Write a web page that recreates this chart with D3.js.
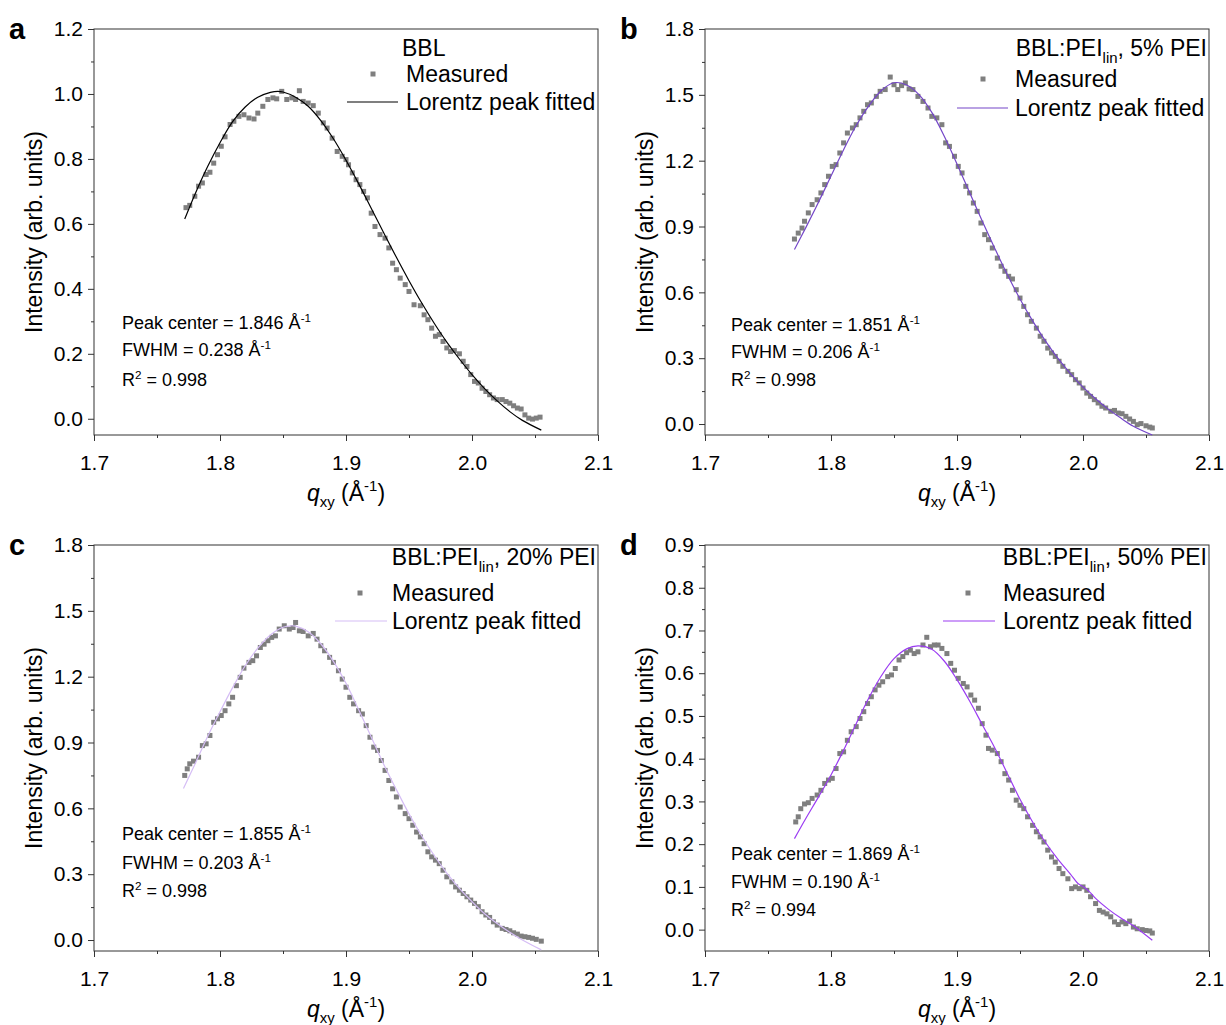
<!DOCTYPE html>
<html>
<head>
<meta charset="utf-8">
<script src="https://cdn.jsdelivr.net/npm/d3@7"></script>
<style>
  body { margin: 0; background: #fff; }
  text { font-family: "Liberation Sans", Arial, sans-serif; fill: #000; }
</style>
</head>
<body>
<svg id="chart" width="1226" height="1025"></svg>
<script>
/*global d3*/

// measured points [q, intensity]
var measuredA = [[1.773,0.650],[1.776,0.657],[1.780,0.685],[1.783,0.716],[1.786,0.726],[1.789,0.752],[1.792,0.759],[1.795,0.787],[1.798,0.813],[1.801,0.839],[1.804,0.868],[1.808,0.906],[1.811,0.916],[1.815,0.931],[1.819,0.936],[1.823,0.926],[1.827,0.923],[1.830,0.941],[1.834,0.962],[1.838,0.983],[1.842,0.988],[1.845,0.985],[1.849,1.008],[1.853,0.983],[1.857,0.988],[1.860,0.983],[1.863,1.010],[1.866,0.977],[1.870,0.972],[1.874,0.964],[1.878,0.941],[1.882,0.911],[1.885,0.895],[1.889,0.864],[1.893,0.823],[1.897,0.808],[1.900,0.798],[1.902,0.782],[1.905,0.757],[1.908,0.736],[1.911,0.721],[1.914,0.700],[1.917,0.680],[1.920,0.633],[1.923,0.592],[1.927,0.567],[1.931,0.556],[1.934,0.526],[1.937,0.479],[1.940,0.459],[1.943,0.433],[1.947,0.413],[1.950,0.392],[1.954,0.351],[1.959,0.348],[1.962,0.320],[1.965,0.305],[1.968,0.279],[1.971,0.254],[1.974,0.259],[1.977,0.238],[1.980,0.218],[1.983,0.207],[1.986,0.210],[1.990,0.200],[1.993,0.177],[1.996,0.161],[1.999,0.136],[2.002,0.115],[2.005,0.110],[2.008,0.094],[2.011,0.084],[2.014,0.074],[2.017,0.064],[2.020,0.059],[2.024,0.059],[2.027,0.053],[2.030,0.048],[2.033,0.040],[2.036,0.033],[2.039,0.030],[2.042,0.012],[2.045,0.002],[2.048,-0.001],[2.051,0.002],[2.054,0.005]];

var measuredB = [[1.771,0.843],[1.774,0.870],[1.777,0.893],[1.779,0.924],[1.782,0.962],[1.785,1.000],[1.789,1.022],[1.792,1.053],[1.795,1.091],[1.798,1.129],[1.801,1.174],[1.804,1.182],[1.807,1.235],[1.810,1.281],[1.813,1.326],[1.817,1.349],[1.820,1.364],[1.823,1.395],[1.826,1.425],[1.829,1.455],[1.832,1.463],[1.836,1.493],[1.839,1.516],[1.843,1.524],[1.847,1.581],[1.850,1.546],[1.853,1.524],[1.856,1.542],[1.859,1.554],[1.862,1.527],[1.865,1.524],[1.869,1.493],[1.873,1.470],[1.877,1.440],[1.880,1.402],[1.884,1.395],[1.888,1.364],[1.891,1.281],[1.894,1.265],[1.898,1.220],[1.901,1.174],[1.904,1.144],[1.907,1.083],[1.910,1.053],[1.913,1.007],[1.916,0.969],[1.919,0.916],[1.922,0.863],[1.925,0.840],[1.928,0.802],[1.932,0.756],[1.935,0.719],[1.938,0.696],[1.941,0.673],[1.944,0.661],[1.947,0.612],[1.950,0.574],[1.953,0.536],[1.956,0.498],[1.959,0.468],[1.963,0.437],[1.966,0.400],[1.969,0.377],[1.972,0.346],[1.975,0.324],[1.978,0.308],[1.981,0.286],[1.984,0.263],[1.988,0.240],[1.991,0.225],[1.994,0.202],[1.997,0.187],[2.000,0.164],[2.003,0.141],[2.006,0.126],[2.009,0.111],[2.012,0.096],[2.015,0.081],[2.018,0.073],[2.022,0.058],[2.025,0.062],[2.028,0.050],[2.031,0.047],[2.034,0.035],[2.037,0.023],[2.040,0.012],[2.043,-0.003],[2.046,0.002],[2.050,-0.008],[2.053,-0.014],[2.055,-0.018]];

var measuredC = [[1.772,0.750],[1.774,0.780],[1.776,0.803],[1.779,0.815],[1.783,0.833],[1.786,0.886],[1.789,0.894],[1.792,0.932],[1.795,0.992],[1.798,1.008],[1.801,1.023],[1.804,1.045],[1.807,1.076],[1.810,1.106],[1.813,1.159],[1.816,1.197],[1.819,1.239],[1.823,1.265],[1.826,1.273],[1.829,1.295],[1.832,1.333],[1.835,1.348],[1.838,1.364],[1.841,1.379],[1.844,1.386],[1.847,1.417],[1.851,1.432],[1.855,1.417],[1.858,1.424],[1.860,1.447],[1.863,1.409],[1.866,1.406],[1.870,1.386],[1.874,1.397],[1.877,1.371],[1.880,1.341],[1.883,1.318],[1.887,1.288],[1.890,1.265],[1.894,1.227],[1.897,1.189],[1.900,1.152],[1.903,1.106],[1.906,1.076],[1.910,1.045],[1.913,1.030],[1.916,0.977],[1.919,0.924],[1.922,0.879],[1.925,0.864],[1.928,0.818],[1.931,0.773],[1.934,0.727],[1.937,0.689],[1.940,0.652],[1.943,0.606],[1.947,0.576],[1.950,0.553],[1.953,0.523],[1.956,0.492],[1.959,0.470],[1.962,0.439],[1.965,0.402],[1.968,0.379],[1.971,0.364],[1.974,0.348],[1.977,0.318],[1.980,0.288],[1.984,0.265],[1.987,0.242],[1.990,0.227],[1.993,0.212],[1.996,0.197],[1.999,0.182],[2.002,0.167],[2.005,0.152],[2.008,0.129],[2.011,0.114],[2.014,0.103],[2.017,0.083],[2.020,0.068],[2.024,0.053],[2.027,0.048],[2.030,0.042],[2.033,0.033],[2.036,0.027],[2.039,0.018],[2.042,0.015],[2.045,0.012],[2.048,0.008],[2.051,0.003],[2.055,-0.005]];

var measuredD = [[1.772,0.252],[1.774,0.264],[1.776,0.283],[1.779,0.294],[1.782,0.297],[1.785,0.307],[1.789,0.315],[1.792,0.326],[1.795,0.342],[1.798,0.350],[1.801,0.354],[1.804,0.377],[1.807,0.412],[1.810,0.416],[1.813,0.443],[1.816,0.463],[1.820,0.475],[1.823,0.494],[1.826,0.510],[1.829,0.529],[1.832,0.545],[1.835,0.561],[1.838,0.572],[1.841,0.580],[1.845,0.592],[1.848,0.596],[1.851,0.611],[1.854,0.631],[1.857,0.639],[1.860,0.648],[1.863,0.654],[1.866,0.646],[1.869,0.650],[1.873,0.666],[1.876,0.684],[1.879,0.662],[1.882,0.666],[1.885,0.666],[1.888,0.658],[1.892,0.646],[1.895,0.623],[1.898,0.607],[1.901,0.588],[1.905,0.576],[1.908,0.568],[1.911,0.549],[1.914,0.537],[1.917,0.518],[1.920,0.482],[1.923,0.455],[1.925,0.424],[1.928,0.420],[1.932,0.412],[1.935,0.393],[1.938,0.365],[1.941,0.350],[1.944,0.326],[1.947,0.303],[1.950,0.291],[1.953,0.283],[1.956,0.264],[1.960,0.244],[1.963,0.229],[1.966,0.217],[1.969,0.205],[1.972,0.186],[1.975,0.170],[1.978,0.158],[1.981,0.143],[1.984,0.131],[1.988,0.119],[1.991,0.096],[1.994,0.100],[1.997,0.096],[2.000,0.100],[2.003,0.092],[2.006,0.077],[2.010,0.061],[2.013,0.045],[2.016,0.041],[2.019,0.037],[2.022,0.030],[2.025,0.018],[2.028,0.012],[2.031,0.018],[2.034,0.014],[2.037,0.020],[2.040,0.006],[2.043,0.002],[2.047,0.000],[2.050,-0.002],[2.053,-0.003],[2.055,-0.008]];

// fitted Lorentz curves, sampled off the figure
var fitA = [[1.772,0.615],[1.78,0.69],[1.79,0.775],[1.80,0.85],[1.81,0.915],[1.82,0.96],[1.83,0.99],[1.84,1.005],[1.846,1.008],[1.85,1.006],[1.86,0.99],[1.87,0.962],[1.88,0.918],[1.89,0.862],[1.90,0.796],[1.91,0.724],[1.92,0.648],[1.93,0.572],[1.94,0.497],[1.95,0.425],[1.96,0.357],[1.97,0.294],[1.98,0.236],[1.99,0.184],[2.00,0.136],[2.01,0.093],[2.02,0.055],[2.03,0.022],[2.04,-0.005],[2.055,-0.035]];
var fitB = [[1.771,0.795],[1.78,0.895],[1.79,1.01],[1.80,1.13],[1.81,1.25],[1.82,1.36],[1.83,1.45],[1.84,1.52],[1.85,1.555],[1.86,1.545],[1.87,1.50],[1.88,1.42],[1.89,1.31],[1.90,1.185],[1.91,1.055],[1.92,0.925],[1.93,0.80],[1.94,0.68],[1.95,0.57],[1.96,0.47],[1.97,0.38],[1.98,0.30],[1.99,0.23],[2.00,0.168],[2.01,0.115],[2.02,0.068],[2.03,0.027],[2.04,-0.01],[2.055,-0.05]];
var fitC = [[1.771,0.69],[1.78,0.80],[1.79,0.925],[1.80,1.04],[1.81,1.15],[1.82,1.25],[1.83,1.33],[1.84,1.39],[1.85,1.425],[1.857,1.432],[1.86,1.43],[1.87,1.405],[1.88,1.35],[1.89,1.27],[1.90,1.17],[1.91,1.05],[1.92,0.925],[1.93,0.80],[1.94,0.685],[1.95,0.575],[1.96,0.475],[1.97,0.385],[1.98,0.305],[1.99,0.235],[2.00,0.175],[2.01,0.12],[2.02,0.075],[2.03,0.035],[2.04,0.0],[2.055,-0.045]];
var fitD = [[1.771,0.213],[1.78,0.26],[1.79,0.31],[1.80,0.362],[1.81,0.42],[1.82,0.482],[1.83,0.542],[1.84,0.594],[1.85,0.634],[1.86,0.657],[1.869,0.664],[1.88,0.656],[1.89,0.628],[1.90,0.585],[1.91,0.535],[1.92,0.48],[1.93,0.425],[1.94,0.365],[1.95,0.305],[1.96,0.252],[1.97,0.205],[1.98,0.165],[1.99,0.13],[1.996,0.108],[2.001,0.099],[2.006,0.086],[2.01,0.073],[2.02,0.048],[2.03,0.027],[2.04,0.009],[2.055,-0.025]];

var panelLetters = ['a', 'b', 'c', 'd'];
var sampleNames = ['BBL', '5% PEI', '20% PEI', '50% PEI'];
var yMaxes = [1.2, 1.8, 1.8, 0.9];
var yMajorSteps = [0.2, 0.3, 0.3, 0.1];
var peakCenters = ['1.846', '1.851', '1.855', '1.869'];
var fwhms = ['0.238', '0.206', '0.203', '0.190'];
var rSquared = ['0.998', '0.998', '0.998', '0.994'];
var fitColors = ['#000000', '#7446c8', '#d5bdf5', '#9b3cf2'];
var xTicks = [1.7, 1.8, 1.9, 2.0, 2.1];

var measured = [measuredA, measuredB, measuredC, measuredD];
var fits = [fitA, fitB, fitC, fitD];

var svg = d3.select('#chart'),
    W = 504, H = 406,
    origins = [[94, 29], [705, 29], [94, 545], [705, 545]],
    // legend/annotation offsets inside each plot
    legendText = [312, 310, 298, 298],
    legendRows = [[19, 45, 73], [19, 50, 79], [12, 48, 76], [12, 48, 76]],
    markerX = [279, 278, 266, 263],
    lineX = [[253, 304], [252, 303], [241, 293], [238, 290]],
    noteX = [28, 26, 28, 26],
    noteRows = [[294, 321, 351], [296, 323, 351], [289, 318, 346], [309, 337, 365]];

/**
 * write text with sub/superscript parts: [[str, 'sup'|'sub'|null], ...]
 */
function richText (g, x, y, size, parts, anchor) {
    var t = g.append('text')
        .attr('x', x)
        .attr('y', y)
        .attr('font-size', size)
        .attr('text-anchor', anchor || 'start');
    var shift = 0;
    parts.forEach(function (p) {
        var want = p[1] === 'sup' ? -0.42 * size : p[1] === 'sub' ? 0.28 * size : 0;
        t.append('tspan')
            .attr('dy', want - shift)
            .attr('font-size', p[1] ? size * 0.65 : size)
            .text(p[0]);
        shift = want;
    });
    return t;
}

panelLetters.forEach(function (letter, i) {
    var ox = origins[i][0], oy = origins[i][1],
        g = svg.append('g').attr('transform', 'translate(' + ox + ',' + oy + ')'),
        x = d3.scaleLinear().domain([1.7, 2.1]).range([0, W]),
        y = d3.scaleLinear().domain([-0.05, yMaxes[i]]).range([H, 0]),
        step = yMajorSteps[i],
        yMajor = d3.range(0, yMaxes[i] + 1e-9, step),
        yMinor = d3.range(step / 2, yMaxes[i], step),
        xMinor = d3.range(1.75, 2.1, 0.1);

    /** minor ticks **/
    g.append('g').attr('class', 'axis')
        .call(d3.axisLeft(y).tickValues(yMinor).tickSize(3).tickSizeOuter(0).tickFormat(''));
    g.append('g').attr('class', 'axis')
        .attr('transform', 'translate(0,' + H + ')')
        .call(d3.axisBottom(x).tickValues(xMinor).tickSize(3).tickSizeOuter(0).tickFormat(''));

    /** major ticks and labels **/
    g.append('g').attr('class', 'axis')
        .call(d3.axisLeft(y).tickValues(yMajor).tickSize(6).tickSizeOuter(0).tickPadding(5).tickFormat(d3.format('.1f')));
    g.append('g').attr('class', 'axis')
        .attr('transform', 'translate(0,' + H + ')')
        .call(d3.axisBottom(x).tickValues(xTicks).tickSize(6).tickSizeOuter(0).tickPadding(14).tickFormat(d3.format('.1f')));

    g.selectAll('.axis .domain').remove();
    g.selectAll('.axis line').attr('stroke', '#333');
    g.selectAll('.axis text')
        .attr('font-size', 21)
        .attr('font-family', '"Liberation Sans", Arial, sans-serif')
        .attr('fill', '#000');

    /** frame **/
    g.append('rect')
        .attr('width', W)
        .attr('height', H)
        .attr('fill', 'none')
        .attr('stroke', '#333')
        .attr('stroke-width', 1);

    /** measured points **/
    g.append('g').selectAll('rect')
        .data(measured[i])
        .enter().append('rect')
        .attr('x', function (d) { return x(d[0]) - 2.5; })
        .attr('y', function (d) { return y(d[1]) - 2.5; })
        .attr('width', 5)
        .attr('height', 5)
        .attr('fill', '#7f7f7f');

    /** fitted curve **/
    g.append('path')
        .datum(fits[i])
        .attr('fill', 'none')
        .attr('stroke', fitColors[i])
        .attr('stroke-width', 1.2)
        .attr('d', d3.line()
            .x(function (d) { return x(d[0]); })
            .y(function (d) { return y(d[1]); })
            .curve(d3.curveCatmullRom.alpha(0.5)));

    /** legend **/
    var rows = legendRows[i], fs = 23, b = 0.36 * fs;
    if (i === 0) {
        richText(g, legendText[i] - 4, rows[0] + b, fs, [[sampleNames[i], null]]);
    } else {
        richText(g, W - 2, rows[0] + b, fs,
            [['BBL:PEI', null], ['lin', 'sub'], [', ' + sampleNames[i], null]], 'end');
    }
    g.append('rect')
        .attr('x', markerX[i] - 2.5)
        .attr('y', rows[1] - 2.5)
        .attr('width', 5)
        .attr('height', 5)
        .attr('fill', '#7f7f7f');
    richText(g, legendText[i], rows[1] + b, fs, [['Measured', null]]);
    g.append('line')
        .attr('x1', lineX[i][0]).attr('x2', lineX[i][1])
        .attr('y1', rows[2]).attr('y2', rows[2])
        .attr('stroke', fitColors[i])
        .attr('stroke-width', 1.2);
    richText(g, legendText[i], rows[2] + b, fs, [['Lorentz peak fitted', null]]);

    /** fit results **/
    var nr = noteRows[i], nf = 18, nb = 0.36 * nf;
    richText(g, noteX[i], nr[0] + nb, nf, [['Peak center = ' + peakCenters[i] + ' Å', null], ['-1', 'sup']]);
    richText(g, noteX[i], nr[1] + nb, nf, [['FWHM = ' + fwhms[i] + ' Å', null], ['-1', 'sup']]);
    richText(g, noteX[i], nr[2] + nb, nf, [['R', null], ['2', 'sup'], [' = ' + rSquared[i], null]]);

    /** axis titles **/
    svg.append('text')
        .attr('transform', 'translate(' + (ox - 52) + ',' + (oy + H / 2) + ') rotate(-90)')
        .attr('text-anchor', 'middle')
        .attr('font-size', 23)
        .text('Intensity (arb. units)');

    var xt = richText(svg, ox + W / 2, oy + H + 66, 23,
        [['q', null], ['xy', 'sub'], [' (Å', null], ['-1', 'sup'], [')', null]], 'middle');
    xt.select('tspan').attr('font-style', 'italic');

    /** panel letter **/
    svg.append('text')
        .attr('x', ox - 85)
        .attr('y', oy + 10)
        .attr('font-size', 29)
        .attr('font-weight', 'bold')
        .text(letter);
});
</script>
</body>
</html>
